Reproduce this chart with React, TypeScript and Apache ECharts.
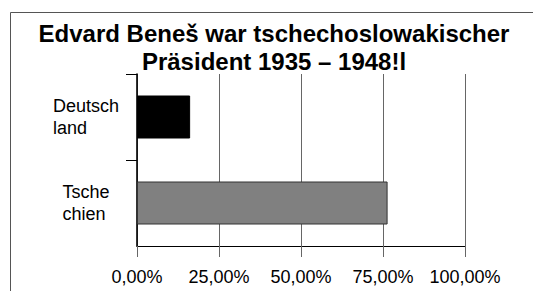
import React, { useEffect, useRef } from "react";
import * as echarts from "echarts";

const titleLines = ["Edvard Beneš war tschechoslowakischer", "Präsident 1935 – 1948!l"];
const categories = ["Deutschland", "Tschechien"];
const categoryLabels = ["Deutsch\nland", "Tsche\nchien"];
const values = [16.2, 76.4];
const barColors = ["#000000", "#808080"];
const barBorders = ["#000000", "#333333"];
const xTicks = [0, 25, 50, 75, 100];
const categoryBoundaryTicks = [0, 1];

const FONT = "'Liberation Sans', Arial, Helvetica, sans-serif";

export default function App() {
  const ref = useRef<HTMLDivElement>(null);
  useEffect(() => {
    if (!ref.current) return;
    const chart = echarts.init(ref.current, null, { renderer: "svg" });
    chart.setOption({
      animation: false,
      backgroundColor: "#ffffff",
      textStyle: { fontFamily: FONT },
      grid: { left: 137, right: 68, top: 74, bottom: 45, containLabel: false },
      xAxis: {
        type: "value",
        position: "bottom",
        min: xTicks[0],
        max: xTicks[xTicks.length - 1],
        interval: xTicks[1] - xTicks[0],
        axisLine: { show: true, onZero: false, lineStyle: { color: "#000", width: 1.2 } },
        axisTick: { show: true, length: 11, lineStyle: { color: "#666", width: 1 } },
        splitLine: { show: true, lineStyle: { color: "#666", width: 1 } },
        axisLabel: {
          fontSize: 18,
          color: "#000",
          fontFamily: FONT,
          margin: 22,
          formatter: (v: number) => v.toFixed(2).replace(".", ",") + "%",
        },
      },
      yAxis: [
        {
          type: "category",
          inverse: true,
          data: categories,
          axisLine: { show: true, onZero: false, lineStyle: { color: "#000", width: 1.6 } },
          axisTick: { show: false },
          splitLine: { show: false },
          axisLabel: {
            margin: 51,
            align: "center",
            fontFamily: FONT,
            formatter: (v: string) => {
              const i = categories.indexOf(v);
              return categoryLabels[i]
                .split("\n")
                .map((s) => "{a|" + s + "}")
                .join("\n");
            },
            rich: {
              a: { align: "left", fontSize: 18, lineHeight: 22, color: "#000", fontFamily: FONT },
            },
          },
        },
        {
          type: "value",
          position: "left",
          inverse: true,
          min: 0,
          max: categories.length,
          interval: 1,
          axisLine: { show: false, onZero: false },
          axisLabel: { show: false },
          splitLine: { show: false },
          axisTick: {
            show: true,
            length: 11,
            customValues: categoryBoundaryTicks,
            lineStyle: { color: "#000", width: 1 },
          },
        },
      ],
      series: [
        {
          type: "bar",
          yAxisIndex: 0,
          barWidth: 43,
          data: values.map((v, i) => ({
            value: v,
            itemStyle: { color: barColors[i], borderColor: barBorders[i], borderWidth: 1 },
          })),
        },
      ],
      graphic: [
        {
          type: "rect",
          silent: true,
          shape: { x: 10.5, y: 12.5, width: 600, height: 400 },
          style: { fill: "none", stroke: "#555", lineWidth: 1 },
          z: 100,
        },
        {
          type: "text",
          x: 274,
          y: 19,
          style: {
            text: titleLines.join("\n"),
            textAlign: "center",
            textVerticalAlign: "top",
            font: "bold 24px " + FONT,
            lineHeight: 28,
            fill: "#000",
          },
        },
      ],
    });
    return () => chart.dispose();
  }, []);
  return (
    <div
      ref={ref}
      style={{ position: "fixed", left: 0, top: 0, width: 533, height: 291 }}
    />
  );
}
